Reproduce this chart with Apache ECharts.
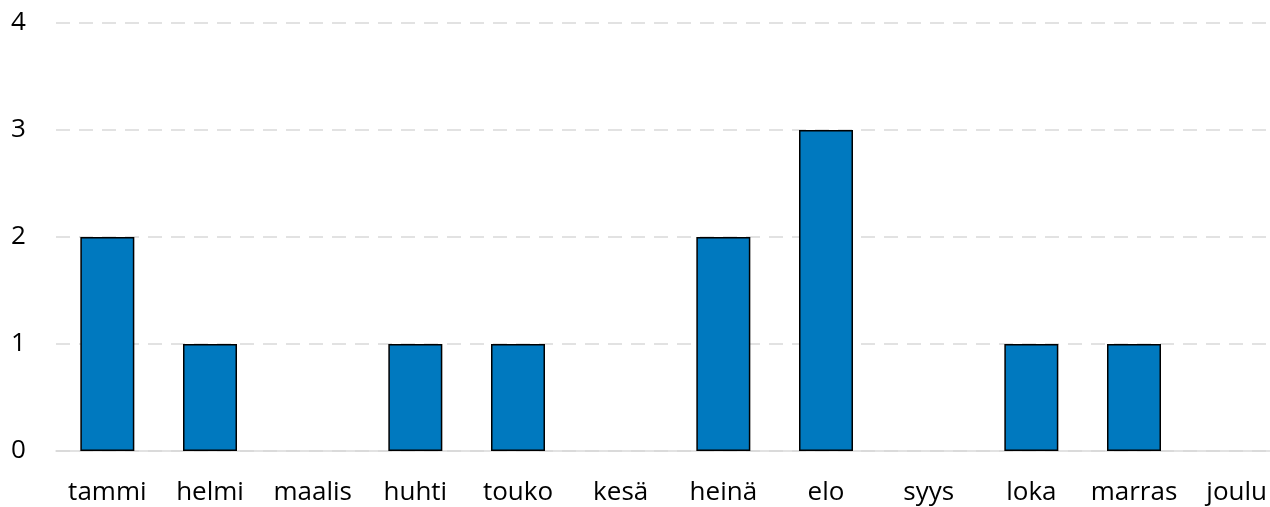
<!DOCTYPE html>
<html>
<head>
<meta charset="utf-8">
<script src="https://cdn.jsdelivr.net/npm/echarts@6/dist/echarts.min.js"></script>
<style>
  html, body { margin: 0; padding: 0; background: #fff; }
  #chart { width: 1270px; height: 507px; }
</style>
</head>
<body>
<div id="chart"></div>
<script>
var months = ['tammi', 'helmi', 'maalis', 'huhti', 'touko', 'kesä', 'heinä', 'elo', 'syys', 'loka', 'marras', 'joulu'];
var counts = [2, 1, 0, 1, 1, 0, 2, 3, 0, 1, 1, 0];

// zero months get no outline so no stray line sits on the axis
var barData = counts.map(function(v) {
  return v === 0 ? { value: v, itemStyle: { borderWidth: 0 } } : v;
});

var chart = echarts.init(document.getElementById('chart'));
chart.setOption({
  animation: false,
  grid: { left: 56, width: 1232, top: 23, height: 428, outerBoundsMode: 'none', containLabel: false },
  xAxis: {
    type: 'category',
    data: months,
    axisTick: { show: false },
    axisLine: { lineStyle: { color: '#d9d9d9', width: 1.5 } },
    axisLabel: { interval: 0, color: '#000', fontSize: 26, fontFamily: 'Open Sans', margin: 29 }
  },
  yAxis: {
    type: 'value',
    min: 0,
    max: 4,
    interval: 1,
    axisLabel: { color: '#000', fontSize: 26, fontFamily: 'Open Sans', margin: 45, align: 'left' },
    splitLine: { lineStyle: { color: '#d9d9d9', type: [14, 9], width: 1.5 } }
  },
  series: [{
    type: 'bar',
    data: barData,
    barWidth: 54,
    itemStyle: { color: '#0079bf', borderColor: '#000', borderWidth: 1.5 }
  }]
});
</script>
</body>
</html>
